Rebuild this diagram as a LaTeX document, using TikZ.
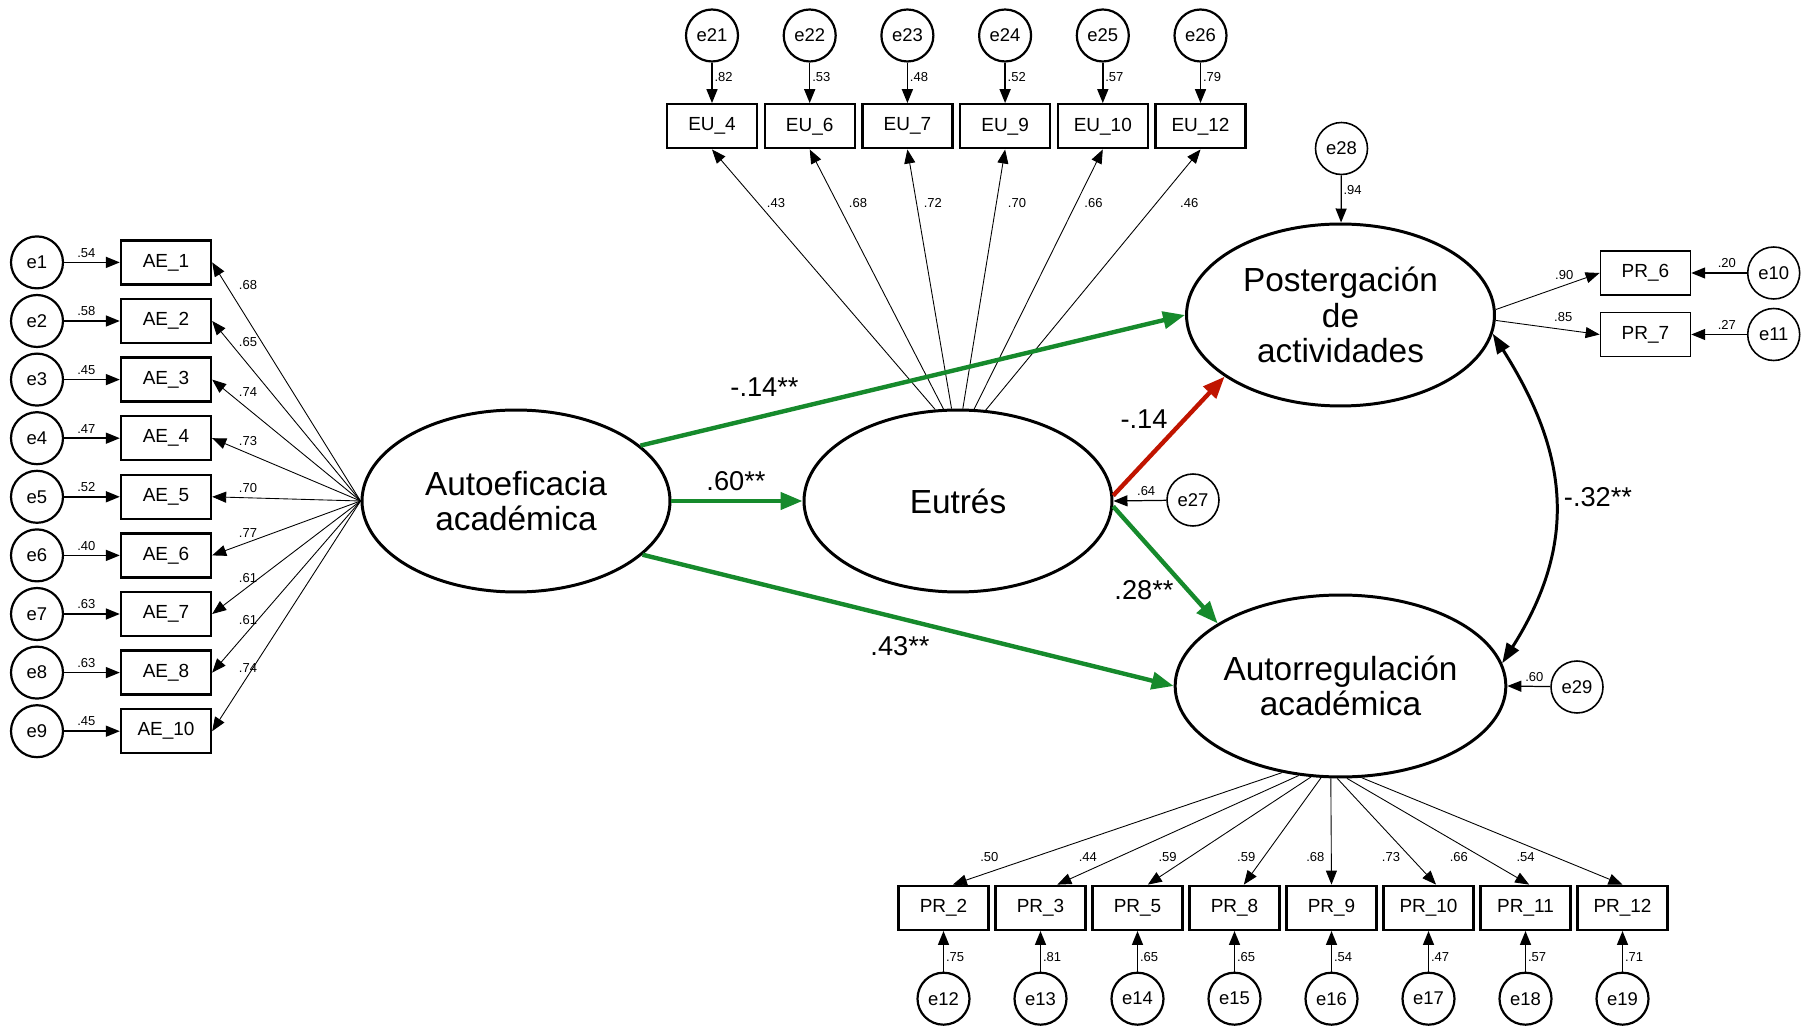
\documentclass[tikz,border=0pt]{standalone}
\usepackage{fontspec}
\setmainfont{Liberation Sans}
\usetikzlibrary{shapes.geometric,arrows.meta}
\definecolor{pathgreen}{RGB}{22,138,44}
\definecolor{pathred}{RGB}{192,20,0}

\begin{document}
\begin{tikzpicture}[x=0.02cm,y=-0.02cm,
    lat/.style={ellipse,draw,line width=1.7pt,minimum width=6.16cm,minimum height=3.64cm,
      inner sep=0pt,align=center,font=\fontsize{19}{20}\selectfont},
    obs/.style={rectangle,draw,line width=1.35pt,minimum width=1.8cm,minimum height=0.88cm,
      inner sep=0pt,font=\fontsize{10.8}{12}\selectfont},
    obsthin/.style={obs,line width=0.95pt},
    err/.style={circle,draw,line width=1.25pt,minimum size=1.04cm,inner sep=0pt,
      font=\fontsize{10.5}{12}\selectfont},
    errthin/.style={err,line width=0.9pt},
    lbl/.style={inner sep=1pt,font=\fontsize{7.4}{8}\selectfont},
    coef/.style={inner sep=0pt,font=\fontsize{15.5}{16}\selectfont},
    tip/.style={-{Triangle[length=0.28cm,width=0.22cm]}},
    load/.style={tip,line width=0.5pt},
    res/.style={tip,line width=0.9pt},
    resthin/.style={tip,line width=0.7pt},
    reg/.style={-{Triangle[length=0.44cm,width=0.34cm]},line width=2.5pt,color=pathgreen},
    cov/.style={{Triangle[length=0.4cm,width=0.28cm]}-{Triangle[length=0.4cm,width=0.28cm]},line width=1.7pt}]
  \useasboundingbox (0,0) rectangle (1806,1026);
  \draw
    (516,501) node[lat] (auto){Autoeficacia\\académica}
    (958,501) node[lat] (eut){Eutrés}
    (1340.5,315) node[lat] (post){Postergación\\de\\actividades}
    (1340.5,686) node[lat] (areg){Autorregulación\\académica};
  \foreach \i/\b/\y/\ev/\lv/\ly in {1/1/262.4/.54/.68/284.7, 2/2/321/.58/.65/342.2,
      3/3/379.6/.45/.74/392.2, 4/4/438.2/.47/.73/441.4, 5/5/496.8/.52/.70/487.6,
      6/6/555.4/.40/.77/533.4, 7/7/614/.63/.61/578.1, 8/8/672.6/.63/.61/620.5,
      9/10/731.2/.45/.74/667.7}
  {
    \draw
      (37,\y) node[err] (e\i){e\i}
      (166,\y) node[obs] (ae\b){AE\_\b};
    \draw[res] (e\i) -- (ae\b) node[lbl,pos=0.4,above=1.5pt]{\ev};
    \draw[load] (auto.west) -- (ae\b.east);
    \node[lbl] at (248,\ly) {\lv};
  }
  \foreach \i/\b/\x/\ev/\lv/\lx/\a in {21/4/712/.82/.43/776/104, 22/6/809.7/.53/.68/858/99,
      23/7/907.4/.48/.72/932.8/94, 24/9/1005.1/.52/.70/1017/87, 25/10/1102.8/.57/.66/1093.5/80,
      26/12/1200.5/.79/.46/1189.2/73}
  {
    \draw
      (\x,35.5) node[err] (e\i){e\i}
      (\x,126.3) node[obs] (eu\b){EU\_\b};
    \draw[res] (e\i) -- (eu\b) node[lbl,pos=0.36,right]{\ev};
    \draw[load] (eut.\a) -- (eu\b.south);
    \node[lbl] at (\lx,203.3) {\lv};
  }
  \foreach \i/\b/\x/\ev/\lv/\lx/\a/\t in {12/2/943.5/.75/.50/989.3/236/68,
      13/3/1040.5/.81/.44/1087.9/245/54, 14/5/1137.5/.65/.59/1167.6/252/66,
      15/8/1234.5/.65/.59/1246.2/258/68, 16/9/1331.5/.54/.68/1315.3/264/90,
      17/10/1428.5/.47/.73/1391/268/72, 18/11/1525.5/.57/.66/1458.9/274/81,
      19/12/1622.5/.71/.54/1525.6/283/90}
  {
    \draw
      (\x,998.7) node[err] (e\i){e\i}
      (\x,907.8) node[obs] (pr\b){PR\_\b};
    \draw[res] (e\i) -- (pr\b) node[lbl,pos=0.36,right]{\ev};
    \draw[load] (areg.\a) -- (pr\b.\t);
    \node[lbl] at (\lx,856.7) {\lv};
  }
  \draw
    (1341.5,148.5) node[errthin] (e28){e28}
    (1645.4,273) node[obsthin] (pr6){PR\_6}
    (1645.4,334.5) node[obsthin] (pr7){PR\_7}
    (1773.7,273) node[errthin] (e10){e10}
    (1773.7,334.5) node[errthin] (e11){e11}
    (1193,500) node[errthin] (e27){e27}
    (1577,687) node[errthin] (e29){e29};
  \draw[resthin] (e28) -- (post) node[lbl,pos=0.32,right]{.94};
  \draw[resthin] (e10) -- (pr6) node[lbl,pos=0.36,above=1.5pt]{.20};
  \draw[resthin] (e11) -- (pr7) node[lbl,pos=0.36,above=1.5pt]{.27};
  \draw[load] (post.2) -- (pr6.west) node[lbl,pos=0.66,above=2pt]{.90};
  \draw[load] (post.-2) -- (pr7.west) node[lbl,pos=0.65,above=3pt]{.85};
  \draw[resthin] (e27) -- (eut.east) node[lbl,pos=0.38,above=1.5pt]{.64};
  \draw[resthin] (e29) -- (areg.east) node[lbl,pos=0.37,above=1.5pt]{.60};
  \begin{scope}
    \draw[reg] (auto.east) -- (eut.west);
    \draw[reg] (auto.24) -- (post.west);
    \draw[reg] (auto.-23) -- (areg.west);
    \draw[reg] (eut.-2) -- (areg.153);
    \draw[reg,color=pathred] (eut.2) -- (post.208);
    \draw[cov] (post.-7) .. controls +(76,120) and +(76,-120) .. (areg.8);
  \end{scope}
  \node[coef] at (764.5,387.5) {-.14**};
  \node[coef] at (736,481) {.60**};
  \node[coef] at (900,646) {.43**};
  \node[coef] at (1144,419) {-.14};
  \node[coef] at (1144,590) {.28**};
  \node[coef] at (1598,497) {-.32**};
\end{tikzpicture}
\end{document}
